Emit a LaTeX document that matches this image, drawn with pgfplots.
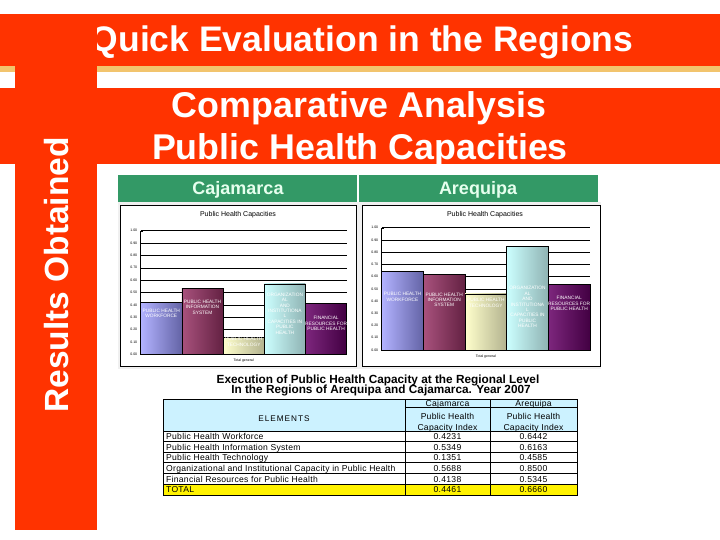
\documentclass[border=0pt]{standalone}
\usepackage{fontspec}
\setmainfont{Liberation Sans}
\usepackage{pgfplots}
\pgfplotsset{compat=1.18}
\definecolor{slidered}{HTML}{FF3300}
\definecolor{tanline}{HTML}{F2C46D}
\definecolor{hdrgreen}{HTML}{339966}
\definecolor{hdrtext}{HTML}{E6FFEE}
\definecolor{tblblue}{HTML}{CCF2FF}
\definecolor{cA}{HTML}{9999FF}
\definecolor{cB}{HTML}{993366}
\definecolor{cC}{HTML}{FFFFCC}
\definecolor{cD}{HTML}{CCFFFF}
\definecolor{cE}{HTML}{660066}
\pgfplotsset{
  capchart/.style={
    scale only axis, xmin=-0.5, xmax=4.5, ymin=0, ymax=1,
    ytick={0,0.1,0.2,0.3,0.4,0.5,0.6,0.7,0.8,0.9,1},
    xtick=\empty,
    yticklabel style={font=\fontsize{3.5}{4}\selectfont, /pgf/number format/.cd, fixed, fixed zerofill, precision=2, assume math mode=true},
    axis x line*=bottom, axis y line*=left,
    axis line style={black, line width=0.9pt},
    ymajorgrids, grid style={black, line width=0.5pt},
    major tick length=2pt, tick style={black},
    ybar, bar width=1,
    clip=false,
    xlabel={Total general},
    xlabel style={font=\fontsize{3.5}{4}\selectfont, at={(axis description cs:0.5,0)}, anchor=north, yshift=-1pt},
  },
}
\tikzset{barlab/.style={text=white, font=\fontsize{4.8}{5.4}\selectfont, align=center, inner sep=0pt}}
\begin{document}
\begin{tikzpicture}
\begin{scope}[x=1pt,y=-1pt]
\fill[white] (0,0) rectangle (720,540);
\fill[slidered] (0,14) rectangle (720,66);
\fill[tanline] (0,66) rectangle (720,72);
\fill[slidered] (0,88) rectangle (720,164);
\fill[slidered] (15,66) rectangle (97,530);
\begin{scope}
\clip (97,0) rectangle (720,80);
\node[white, font=\bfseries\fontsize{35.5}{40}\selectfont, anchor=base] at (362,52) {Quick Evaluation in the Regions};
\end{scope}
\node[white, font=\bfseries\fontsize{35.8}{40}\selectfont, anchor=base] at (359,118) {Comparative Analysis};
\node[white, font=\bfseries\fontsize{35.8}{40}\selectfont, anchor=base] at (360,160) {Public Health Capacities};
\node[white, font=\bfseries\fontsize{33.5}{38}\selectfont, rotate=90, anchor=base] at (68.5,275) {Results Obtained};
% green header
\fill[hdrgreen] (118,175) rectangle (598,202);
\draw[white, line width=1.5pt] (358,175) -- (358,202);
\node[hdrtext, font=\bfseries\fontsize{18}{20}\selectfont, anchor=base] at (238,195) {Cajamarca};
\node[hdrtext, font=\bfseries\fontsize{18}{20}\selectfont, anchor=base] at (478,195) {Arequipa};
% chart panels
\fill[black!6] (118,202) rectangle (601,369);
\draw[black, fill=white, line width=0.7pt] (120,205) rectangle (356,366);
\draw[black, fill=white, line width=0.7pt] (362,205) rectangle (600,366);
\node[font=\fontsize{7}{8}\selectfont, anchor=base] at (238,217) {Public Health Capacities};
\node[font=\fontsize{7}{8}\selectfont, anchor=base] at (485,217) {Public Health Capacities};
% table title
\node[font=\bfseries\fontsize{11.8}{13}\selectfont, anchor=base] at (378,383) {Execution of Public Health Capacity at the Regional Level};
\node[font=\bfseries\fontsize{11.8}{13}\selectfont, anchor=base] at (381,393.5) {In the Regions of Arequipa and Cajamarca. Year 2007};
% table
\fill[tblblue] (163,399) rectangle (577,431);
\fill[yellow] (163,484) rectangle (577,495);
\draw[black, line width=0.8pt] (163,399) rectangle (577,495);
\draw[black, line width=0.8pt] (405,399) -- (405,495);
\draw[black, line width=0.8pt] (490,399) -- (490,495);
\draw[black, line width=0.8pt] (405,407.5) -- (577,407.5);
\foreach \yy in {431,441.5,452,462.7,473.3,484} {\draw[black, line width=0.8pt] (163,\yy) -- (577,\yy);}
\begin{scope}[every node/.style={font=\fontsize{8.6}{9}\selectfont\addfontfeature{LetterSpace=3}, inner sep=0pt}]
\node[anchor=base] at (447.5,406) {Cajamarca};
\node[anchor=base] at (533.5,406) {Arequipa};
\node[anchor=base] at (447.5,419.5) {Public Health};
\node[anchor=base] at (533.5,419.5) {Public Health};
\node[anchor=base] at (447.5,430) {Capacity Index};
\node[anchor=base] at (533.5,430) {Capacity Index};
\node[anchor=base, font=\fontsize{8.2}{9}\selectfont\addfontfeature{LetterSpace=12}] at (284,421.5) {ELEMENTS};
\node[anchor=base west] at (166,439.5) {Public Health Workforce};
\node[anchor=base west] at (166,450) {Public Health Information System};
\node[anchor=base west] at (166,460.7) {Public Health Technology};
\node[anchor=base west] at (166,471.3) {Organizational and Institutional Capacity in Public Health};
\node[anchor=base west] at (166,482) {Financial Resources for Public Health};
\node[anchor=base west] at (166,492.7) {TOTAL};
\node[anchor=base] at (447.5,439.5) {0.4231};
\node[anchor=base] at (447.5,450) {0.5349};
\node[anchor=base] at (447.5,460.7) {0.1351};
\node[anchor=base] at (447.5,471.3) {0.5688};
\node[anchor=base] at (447.5,482) {0.4138};
\node[anchor=base] at (447.5,492.7) {0.4461};
\node[anchor=base] at (533.5,439.5) {0.6442};
\node[anchor=base] at (533.5,450) {0.6163};
\node[anchor=base] at (533.5,460.7) {0.4585};
\node[anchor=base] at (533.5,471.3) {0.8500};
\node[anchor=base] at (533.5,482) {0.5345};
\node[anchor=base] at (533.5,492.7) {0.6660};
\end{scope}
\end{scope}
% Chart 1: Cajamarca
\begin{axis}[capchart, at={(140.7pt,-354.3pt)}, anchor=south west, width=206pt, height=123.6pt]
\addplot[bar shift=0pt, draw=black, line width=0.5pt, left color=cA!75!white, right color=cA!65!black] coordinates {(0,0.4231)};
\addplot[bar shift=0pt, draw=black, line width=0.5pt, left color=cB!85!white, right color=cB!65!black] coordinates {(1,0.5349)};
\addplot[bar shift=0pt, draw=black, line width=0.5pt, left color=cC, right color=cC!70!black] coordinates {(2,0.1351)};
\addplot[bar shift=0pt, draw=black, line width=0.5pt, left color=cD, right color=cD!70!black] coordinates {(3,0.5688)};
\addplot[bar shift=0pt, draw=black, line width=0.5pt, left color=cE!85!white, right color=cE!65!black] coordinates {(4,0.4138)};
\node[barlab] at (axis cs:0,0.33) {PUBLIC HEALTH\\WORKFORCE};
\node[barlab] at (axis cs:1,0.38) {PUBLIC HEALTH\\INFORMATION\\SYSTEM};
\node[barlab] at (axis cs:2,0.10) {PUBLIC HEALTH\\TECHNOLOGY};
\node[barlab] at (axis cs:3,0.33) {ORGANIZATION\\AL\\AND\\INSTITUTIONA\\L\\CAPACITIES IN\\PUBLIC\\HEALTH};
\node[barlab] at (axis cs:4,0.25) {FINANCIAL\\RESOURCES FOR\\PUBLIC HEALTH};
\end{axis}
% Chart 2: Arequipa
\begin{axis}[capchart, at={(381.7pt,-350pt)}, anchor=south west, width=208.3pt, height=122.3pt]
\addplot[bar shift=0pt, draw=black, line width=0.5pt, left color=cA!75!white, right color=cA!65!black] coordinates {(0,0.6442)};
\addplot[bar shift=0pt, draw=black, line width=0.5pt, left color=cB!85!white, right color=cB!65!black] coordinates {(1,0.6163)};
\addplot[bar shift=0pt, draw=black, line width=0.5pt, left color=cC, right color=cC!70!black] coordinates {(2,0.4585)};
\addplot[bar shift=0pt, draw=black, line width=0.5pt, left color=cD, right color=cD!70!black] coordinates {(3,0.8500)};
\addplot[bar shift=0pt, draw=black, line width=0.5pt, left color=cE!85!white, right color=cE!65!black] coordinates {(4,0.5345)};
\node[barlab] at (axis cs:0,0.436) {PUBLIC HEALTH\\WORKFORCE};
\node[barlab] at (axis cs:1,0.41) {PUBLIC HEALTH\\INFORMATION\\SYSTEM};
\node[barlab] at (axis cs:2,0.387) {PUBLIC HEALTH\\TECHNOLOGY};
\node[barlab] at (axis cs:3,0.35) {ORGANIZATION\\AL\\AND\\INSTITUTIONA\\L\\CAPACITIES IN\\PUBLIC\\HEALTH};
\node[barlab] at (axis cs:4,0.38) {FINANCIAL\\RESOURCES FOR\\PUBLIC HEALTH};
\end{axis}
\end{tikzpicture}
\end{document}
